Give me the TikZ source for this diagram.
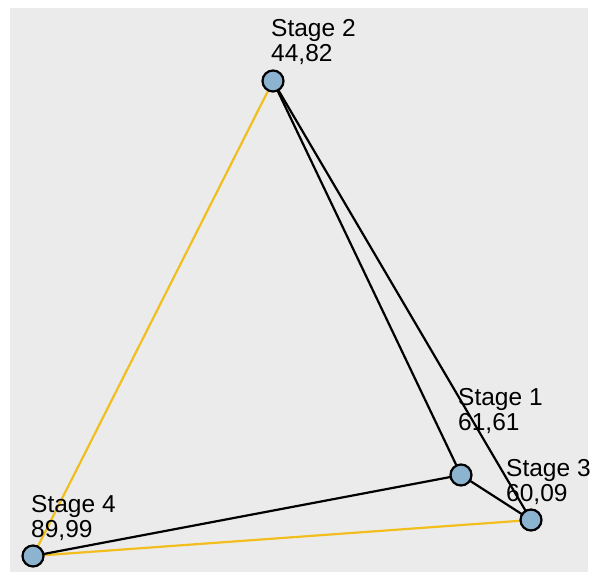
\documentclass[tikz,border=0pt]{standalone}
\usepackage{fontspec}
\setmainfont{Liberation Sans}
\definecolor{bgcol}{RGB}{235,235,235}
\definecolor{nodecol}{RGB}{140,180,208}
\definecolor{yel}{RGB}{242,190,30}
\begin{document}
\begin{tikzpicture}[x=1pt,y=-1pt,
  stage/.style={circle,draw=black,line width=2.2pt,fill=nodecol,minimum size=21pt,inner sep=0pt},
  lbl/.style={anchor=base west,inner sep=0pt,align=left,font=\fontsize{24.5}{25}\selectfont},
  blk/.style={draw=black,line width=2.2pt},
  yl/.style={draw=yel,line width=2.2pt}]
\useasboundingbox (0,0) rectangle (590,572);
\fill[white] (0,0) rectangle (590,572);
\fill[bgcol] (10,8) rectangle (588,572);
\coordinate (p2) at (273,81);
\coordinate (p1) at (461,475);
\coordinate (p3) at (531,520);
\coordinate (p4) at (33,556);
\draw[yl] (p2) -- (p4);
\draw[yl] (p4) -- (p3);
\draw[blk] (p2) -- (p1);
\draw[blk] (p2) -- (p3);
\draw[blk] (p1) -- (p3);
\draw[blk] (p1) -- (p4);
\node[stage] (s2) at (p2) {};
\node[stage] (s1) at (p1) {};
\node[stage] (s3) at (p3) {};
\node[stage] (s4) at (p4) {};
\node[lbl] (l2) at (271,62) {Stage 2\\44,82};
\node[lbl] (l1) at (458,431) {Stage 1\\61,61};
\node[lbl] (l3) at (506,502) {Stage 3\\60,09};
\node[lbl] (l4) at (31,537) {Stage 4\\89,99};
\end{tikzpicture}
\end{document}
